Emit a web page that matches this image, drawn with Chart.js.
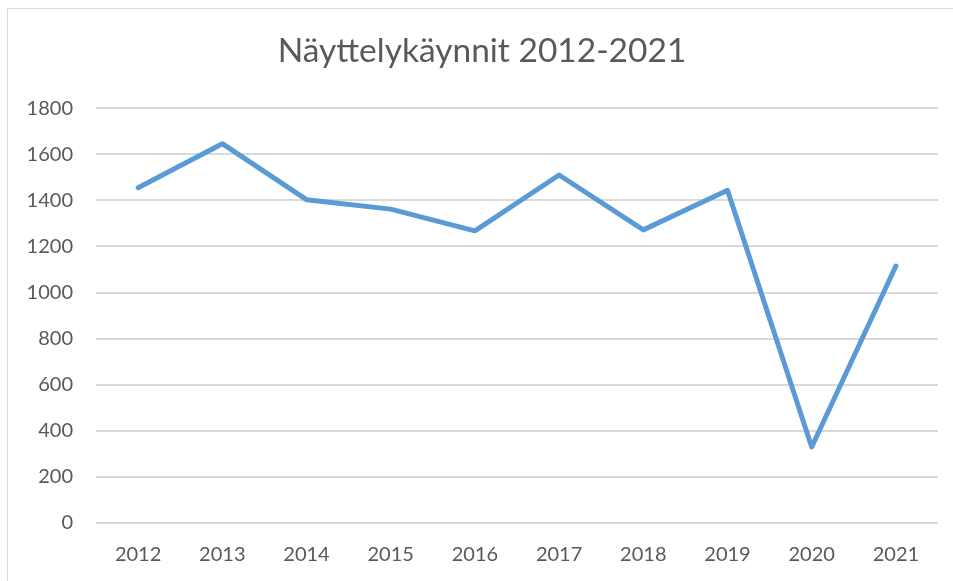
<!DOCTYPE html>
<html>
<head>
<meta charset="utf-8">
<script src="https://cdn.jsdelivr.net/npm/chart.js@4"></script>
<style>
  html, body { margin: 0; padding: 0; background: #fff; overflow: hidden; width: 953px; height: 581px; }
  #frame { position: absolute; left: 7px; top: 8px; width: 958px; height: 600px; border: 1px solid #d9d9d9; }
  canvas { display: block; }
</style>
</head>
<body>
<div id="frame"><canvas id="chart" width="958" height="600"></canvas></div>
<script>
// Näyttelykäynnit vuosittain
const years = ['2012', '2013', '2014', '2015', '2016', '2017', '2018', '2019', '2020', '2021'];
const visits = [1455, 1646, 1403, 1362, 1268, 1510, 1272, 1444, 330, 1115];
const yTicks = [0, 200, 400, 600, 800, 1000, 1200, 1400, 1600, 1800];

const textColor = '#595959';
const gridColor = '#d9d9d9';

new Chart(document.getElementById('chart').getContext('2d'), {
    type: 'line',
    data: {
        labels: years,
        datasets: [{
            label: 'Näyttelykäynnit',
            data: visits,
            borderColor: '#5b9bd5',
            borderWidth: 5,
            borderCapStyle: 'round',
            borderJoinStyle: 'round',
            pointRadius: 0,
            tension: 0
        }]
    },
    options: {
        responsive: false,
        animation: false,
        layout: { padding: { left: 18, right: 28, top: 0, bottom: 36 } },
        plugins: {
            legend: { display: false },
            tooltip: { enabled: false },
            title: {
                display: true,
                text: 'Näyttelykäynnit 2012-2021',
                color: textColor,
                font: { family: 'Lato', size: 33.5, weight: 'normal' },
                padding: { top: 22, bottom: 37 }
            }
        },
        scales: {
            x: {
                offset: true,
                grid: { display: false, drawTicks: false },
                border: { display: false },
                ticks: { color: textColor, font: { family: 'Lato', size: 20 }, padding: 20, maxRotation: 0 },
                afterFit: s => { s.height = 50; }
            },
            y: {
                min: 0,
                max: 1800,
                afterBuildTicks: s => { s.ticks = yTicks.map(v => ({ value: v })); },
                grid: { color: gridColor, lineWidth: 2, drawTicks: false },
                border: { display: false },
                ticks: {
                    color: textColor,
                    font: { family: 'Lato', size: 20 },
                    padding: 23,
                    callback: v => String(v)
                },
                afterFit: s => { s.width = 70; }
            }
        }
    }
});
</script>
</body>
</html>
